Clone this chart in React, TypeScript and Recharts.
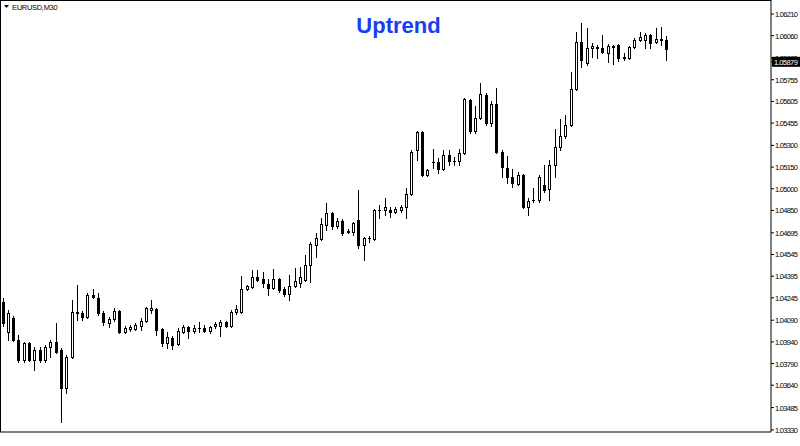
import React from 'react';
import { ComposedChart, Bar, XAxis, YAxis } from 'recharts';

// Candle index (M30 bars, oldest first)
const candleIndex: number[] = Array.from({ length: 126 }, (_, i) => i + 1);

const opens: number[] = [
  1.04216, 1.04008, 1.04105, 1.03953, 1.03815, 1.03932, 1.03815, 1.03884, 1.03815, 1.03905,
  1.03939, 1.03884, 1.03621, 1.03835, 1.04147, 1.04140, 1.04112, 1.04265, 1.04244, 1.04140,
  1.04071, 1.04098, 1.04154, 1.04008, 1.04029, 1.04029, 1.04050, 1.04085, 1.04161, 1.04168,
  1.04029, 1.03932, 1.03967, 1.03925, 1.04008, 1.04043, 1.04015, 1.04033, 1.04036, 1.04015,
  1.04050, 1.04050, 1.04078, 1.04050, 1.04147, 1.04147, 1.04306, 1.04320, 1.04389, 1.04375,
  1.04341, 1.04313, 1.04375, 1.04306, 1.04271, 1.04327, 1.04348, 1.04368, 1.04472, 1.04611,
  1.04652, 1.04749, 1.04832, 1.04742, 1.04777, 1.04708, 1.04701, 1.04784, 1.04611, 1.04656,
  1.04652, 1.04850, 1.04853, 1.04853, 1.04839, 1.04853, 1.04874, 1.04964, 1.05268, 1.05393,
  1.05095, 1.05182, 1.05185, 1.05137, 1.05234, 1.05192, 1.05192, 1.05248, 1.05615, 1.05400,
  1.05490, 1.05649, 1.05455, 1.05587, 1.05255, 1.05144, 1.05082, 1.05033, 1.05095, 1.04874,
  1.04919, 1.04922, 1.05026, 1.04998, 1.05165, 1.05289, 1.05365, 1.05442, 1.05691, 1.06016,
  1.05871, 1.05975, 1.05982, 1.05975, 1.05940, 1.05985, 1.05995, 1.05912, 1.05905, 1.05982,
  1.06030, 1.06030, 1.06065, 1.06016, 1.06037, 1.06030,
];

const highs: number[] = [
  1.04244, 1.04161, 1.04119, 1.03988, 1.03939, 1.03939, 1.03905, 1.03905, 1.03918, 1.03953,
  1.04071, 1.03898, 1.03849, 1.04230, 1.04334, 1.04154, 1.04278, 1.04306, 1.04278, 1.04154,
  1.04112, 1.04175, 1.04161, 1.04050, 1.04057, 1.04071, 1.04105, 1.04182, 1.04230, 1.04175,
  1.04036, 1.04008, 1.03981, 1.04036, 1.04057, 1.04050, 1.04057, 1.04078, 1.04057, 1.04050,
  1.04078, 1.04092, 1.04085, 1.04161, 1.04195, 1.04396, 1.04334, 1.04438, 1.04438, 1.04424,
  1.04375, 1.04445, 1.04382, 1.04320, 1.04403, 1.04452, 1.04458, 1.04542, 1.04632, 1.04694,
  1.04798, 1.04901, 1.04839, 1.04798, 1.04791, 1.04722, 1.04770, 1.04991, 1.04666, 1.04673,
  1.04860, 1.04888, 1.04936, 1.04874, 1.04874, 1.04888, 1.05005, 1.05268, 1.05400, 1.05400,
  1.05137, 1.05275, 1.05213, 1.05268, 1.05268, 1.05220, 1.05275, 1.05628, 1.05621, 1.05573,
  1.05732, 1.05663, 1.05608, 1.05698, 1.05268, 1.05227, 1.05137, 1.05116, 1.05102, 1.04936,
  1.05005, 1.05095, 1.05165, 1.05199, 1.05414, 1.05483, 1.05511, 1.05808, 1.06085, 1.06148,
  1.06113, 1.06009, 1.05995, 1.06065, 1.06002, 1.05995, 1.06002, 1.05940, 1.05988, 1.06044,
  1.06085, 1.06078, 1.06072, 1.06113, 1.06120, 1.06058,
];

const lows: number[] = [
  1.04050, 1.03953, 1.03946, 1.03801, 1.03801, 1.03808, 1.03745, 1.03801, 1.03801, 1.03835,
  1.03863, 1.03385, 1.03586, 1.03828, 1.04092, 1.04092, 1.04105, 1.04244, 1.04126, 1.04057,
  1.04043, 1.04085, 1.04002, 1.04002, 1.04015, 1.04022, 1.04022, 1.04078, 1.04140, 1.03988,
  1.03912, 1.03898, 1.03891, 1.03918, 1.04002, 1.03967, 1.04002, 1.04008, 1.04008, 1.04002,
  1.04036, 1.03981, 1.04043, 1.04043, 1.04133, 1.04140, 1.04299, 1.04313, 1.04361, 1.04320,
  1.04265, 1.04306, 1.04285, 1.04258, 1.04230, 1.04320, 1.04320, 1.04361, 1.04355, 1.04528,
  1.04645, 1.04715, 1.04722, 1.04728, 1.04680, 1.04694, 1.04680, 1.04590, 1.04507, 1.04632,
  1.04645, 1.04798, 1.04818, 1.04805, 1.04832, 1.04839, 1.04798, 1.04957, 1.05199, 1.05088,
  1.05088, 1.05144, 1.05109, 1.05130, 1.05165, 1.05165, 1.05165, 1.05241, 1.05386, 1.05386,
  1.05483, 1.05442, 1.05435, 1.05248, 1.05082, 1.05040, 1.05012, 1.05026, 1.04867, 1.04818,
  1.04908, 1.04908, 1.04978, 1.04922, 1.05082, 1.05268, 1.05352, 1.05435, 1.05684, 1.05843,
  1.05857, 1.05912, 1.05905, 1.05940, 1.05878, 1.05864, 1.05885, 1.05892, 1.05898, 1.05975,
  1.06023, 1.05975, 1.05975, 1.06009, 1.05995, 1.05892,
];

const closes: number[] = [
  1.04071, 1.04140, 1.03953, 1.03815, 1.03932, 1.03815, 1.03884, 1.03815, 1.03905, 1.03939,
  1.03870, 1.03621, 1.03835, 1.04147, 1.04140, 1.04112, 1.04265, 1.04251, 1.04140, 1.04078,
  1.04098, 1.04154, 1.04008, 1.04036, 1.04043, 1.04057, 1.04085, 1.04175, 1.04175, 1.04022,
  1.03932, 1.03974, 1.03918, 1.04015, 1.04043, 1.04015, 1.04036, 1.04036, 1.04015, 1.04043,
  1.04064, 1.04078, 1.04050, 1.04147, 1.04168, 1.04306, 1.04327, 1.04389, 1.04368, 1.04348,
  1.04313, 1.04375, 1.04299, 1.04271, 1.04327, 1.04361, 1.04389, 1.04472, 1.04618, 1.04659,
  1.04756, 1.04832, 1.04742, 1.04777, 1.04694, 1.04704, 1.04763, 1.04611, 1.04659, 1.04659,
  1.04853, 1.04853, 1.04874, 1.04839, 1.04860, 1.04874, 1.04964, 1.05255, 1.05393, 1.05095,
  1.05130, 1.05185, 1.05137, 1.05234, 1.05192, 1.05189, 1.05248, 1.05621, 1.05400, 1.05490,
  1.05656, 1.05455, 1.05587, 1.05255, 1.05151, 1.05082, 1.05040, 1.05095, 1.04874, 1.04915,
  1.04922, 1.05082, 1.04991, 1.05165, 1.05289, 1.05365, 1.05442, 1.05691, 1.06016, 1.05892,
  1.05975, 1.05988, 1.05975, 1.05947, 1.05988, 1.05988, 1.05905, 1.05905, 1.05982, 1.06030,
  1.06051, 1.06065, 1.06009, 1.06037, 1.06030, 1.05968,
];

const priceTickLabels: string[] = [
  '1.06210', '1.06060', '1.05905', '1.05755', '1.05605', '1.05455', '1.05300', '1.05150',
  '1.05000', '1.04850', '1.04695', '1.04545', '1.04395', '1.04245', '1.04090', '1.03940',
  '1.03790', '1.03640', '1.03485', '1.03330',
];

const bidPrice = 1.05879;
const bidLabel = '1.05879';
const symbolLabel = 'EURUSD,M30';
const titleText = 'Uptrend';

const data = candleIndex.map((n, i) => ({
  n,
  open: opens[i],
  high: highs[i],
  low: lows[i],
  close: closes[i],
  range: [lows[i], highs[i]],
}));

const CandleShape = (props: any) => {
  const { x, y, width, height, payload } = props;
  if (!payload || x == null || y == null) return null;
  const top = Math.min(y, y + height);
  const h = Math.abs(height);
  const span = payload.high - payload.low;
  const yOf = (p: number) => (span > 0 ? top + ((payload.high - p) / span) * h : top);
  const cx = Math.round(x + width / 2);
  const yH = Math.round(yOf(payload.high));
  const yL = Math.round(yOf(payload.low));
  const yO = Math.round(yOf(payload.open));
  const yC = Math.round(yOf(payload.close));
  const bull = payload.close >= payload.open;
  const bTop = Math.min(yO, yC);
  const bBot = Math.max(yO, yC);
  return (
    <g>
      <line x1={cx + 0.5} x2={cx + 0.5} y1={yH} y2={yL + 1} stroke="#000" strokeWidth={1} />
      <rect
        x={cx - 0.5}
        y={bTop + 0.5}
        width={2}
        height={Math.max(bBot - bTop, 0.01)}
        fill={bull ? '#fff' : '#000'}
        stroke="#000"
        strokeWidth={1}
      />
    </g>
  );
};

const FONT = "'Liberation Sans', Arial, sans-serif";

const PriceTick = (props: any) => {
  const { x, y, payload } = props;
  const v = payload.value;
  if (Math.abs(v - bidPrice) < 1e-7) {
    return (
      <g>
        <rect x={772} y={y - 5} width={28} height={10} fill="#000" />
        <text x={774} y={y + 3} fontSize={7.5} fontFamily={FONT} fill="#fff" letterSpacing={-0.55}>
          {bidLabel}
        </text>
      </g>
    );
  }
  const idx = priceTickLabels.findIndex((s) => Math.abs(parseFloat(s) - v) < 1e-7);
  const label = idx >= 0 ? priceTickLabels[idx] : v.toFixed(5);
  return (
    <text x={x} y={y + 3} fontSize={7.5} fontFamily={FONT} fill="#000" letterSpacing={-0.7}>
      {label}
    </text>
  );
};

const yTicks: number[] = [...priceTickLabels.map((s) => parseFloat(s)), bidPrice];

export default function App() {
  return (
    <div style={{ position: 'absolute', left: 0, top: 0, width: 800, height: 446, background: '#fff' }}>
      <ComposedChart
        width={800}
        height={446}
        data={data}
        margin={{ top: 0, right: 0, bottom: 0, left: 0 }}
        barCategoryGap={0}
      >
        <XAxis
          dataKey="n"
          type="category"
          tick={false}
          tickLine={false}
          height={14}
          axisLine={{ stroke: '#000' }}
          padding={{ left: 0, right: 102 }}
        />
        <YAxis
          orientation="right"
          width={29}
          type="number"
          domain={[1.03316, 1.06307]}
          ticks={yTicks}
          interval={0}
          tickSize={3}
          tickMargin={1}
          tickLine={{ stroke: '#000' }}
          axisLine={{ stroke: '#000' }}
          tick={<PriceTick />}
          allowDataOverflow
        />
        <Bar dataKey="range" shape={<CandleShape />} isAnimationActive={false} />
      </ComposedChart>
      <div
        style={{
          position: 'absolute',
          left: 0,
          top: 0,
          width: 771,
          height: 432,
          borderLeft: '1px solid #000',
          borderTop: '1px solid #000',
          boxSizing: 'border-box',
          pointerEvents: 'none',
        }}
      />
      <svg
        width={800}
        height={446}
        style={{ position: 'absolute', left: 0, top: 0, pointerEvents: 'none' }}
      >
        <path d="M4 5 L9 5 L6.5 8 Z" fill="#000" />
        <text x={12} y={10} fontSize={7.5} fontFamily={FONT} fill="#000" letterSpacing={-0.3}>
          {symbolLabel}
        </text>
        <text
          x={398.5}
          y={33}
          textAnchor="middle"
          fontSize={22}
          fontWeight="bold"
          fontFamily={FONT}
          fill="#1a3cf5"
        >
          {titleText}
        </text>
      </svg>
    </div>
  );
}
